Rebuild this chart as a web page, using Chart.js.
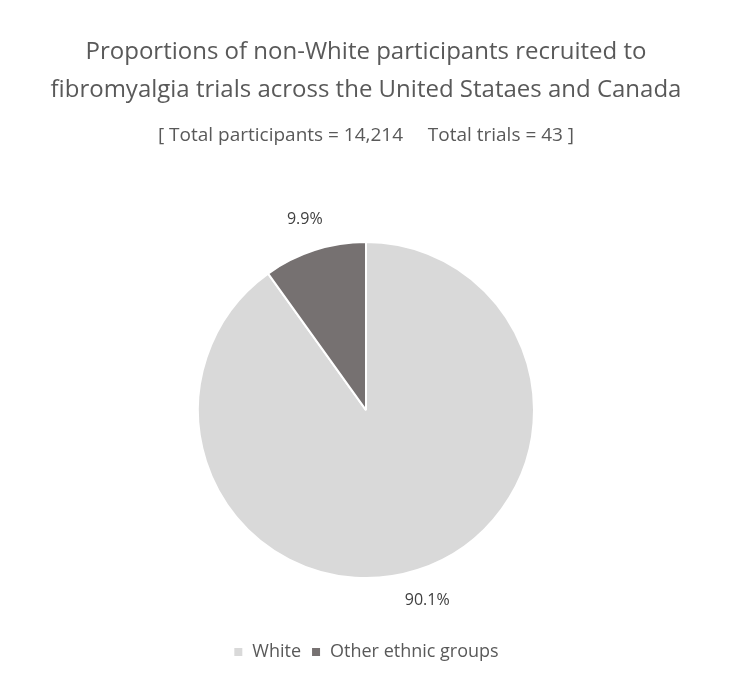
<!DOCTYPE html>
<html><head><meta charset="utf-8">
<script src="https://cdn.jsdelivr.net/npm/chart.js@4"></script>
<style>html,body{margin:0;padding:0;background:#fff}#w{width:732px;height:681px}</style>
</head><body><div id="w"><canvas id="c"></canvas></div>
<script>
const categories = ["White", "Other ethnic groups"];
const values = [90.1, 9.9];
const colors = ["#d9d9d9", "#767171"];
const titleLines = ["Proportions of non-White participants recruited to", "fibromyalgia trials across the United Stataes and Canada"];
const subtitleText = "[ Total participants = 14,214     Total trials = 43 ]";
const FONT = "'Open Sans', 'Noto Sans', sans-serif";

const outLabels = {
  id: 'outLabels',
  afterDatasetsDraw(chart) {
    const ctx = chart.ctx;
    const meta = chart.getDatasetMeta(0);
    ctx.save();
    ctx.font = "16px " + FONT;
    ctx.fillStyle = "#404040";
    ctx.textAlign = "center"; ctx.textBaseline = "middle";
    meta.data.forEach((arc, i) => {
      const mid = (arc.startAngle + arc.endAngle) / 2;
      const r = arc.outerRadius + 32;
      ctx.fillText(values[i].toFixed(1) + "%", arc.x + Math.cos(mid) * r, arc.y + Math.sin(mid) * r);
    });
    ctx.restore();
  }
};

new Chart(document.getElementById('c'), {
  type: 'pie',
  data: { labels: categories, datasets: [{ data: values, backgroundColor: colors, borderColor: '#ffffff', borderWidth: 2, radius: 168 }] },
  options: {
    responsive: true, maintainAspectRatio: false, animation: false,
    layout: { padding: { top: 20, bottom: 10, left: 20, right: 20 } },
    plugins: {
      title: { display: true, text: titleLines, color: '#595959', font: { family: FONT, size: 24, weight: 'normal', lineHeight: 1.55 }, padding: { top: 14, bottom: 12 } },
      subtitle: { display: true, text: subtitleText, color: '#595959', font: { family: FONT, size: 19, weight: 'normal' }, padding: { top: 4, bottom: 40 } },
      legend: { position: 'bottom', labels: { color: '#595959', font: { family: FONT, size: 18 }, usePointStyle: true, pointStyle: 'rect', boxWidth: 10, boxHeight: 10, padding: 10 } },
      tooltip: { enabled: false }
    }
  },
  plugins: [outLabels]
});
</script></body></html>
